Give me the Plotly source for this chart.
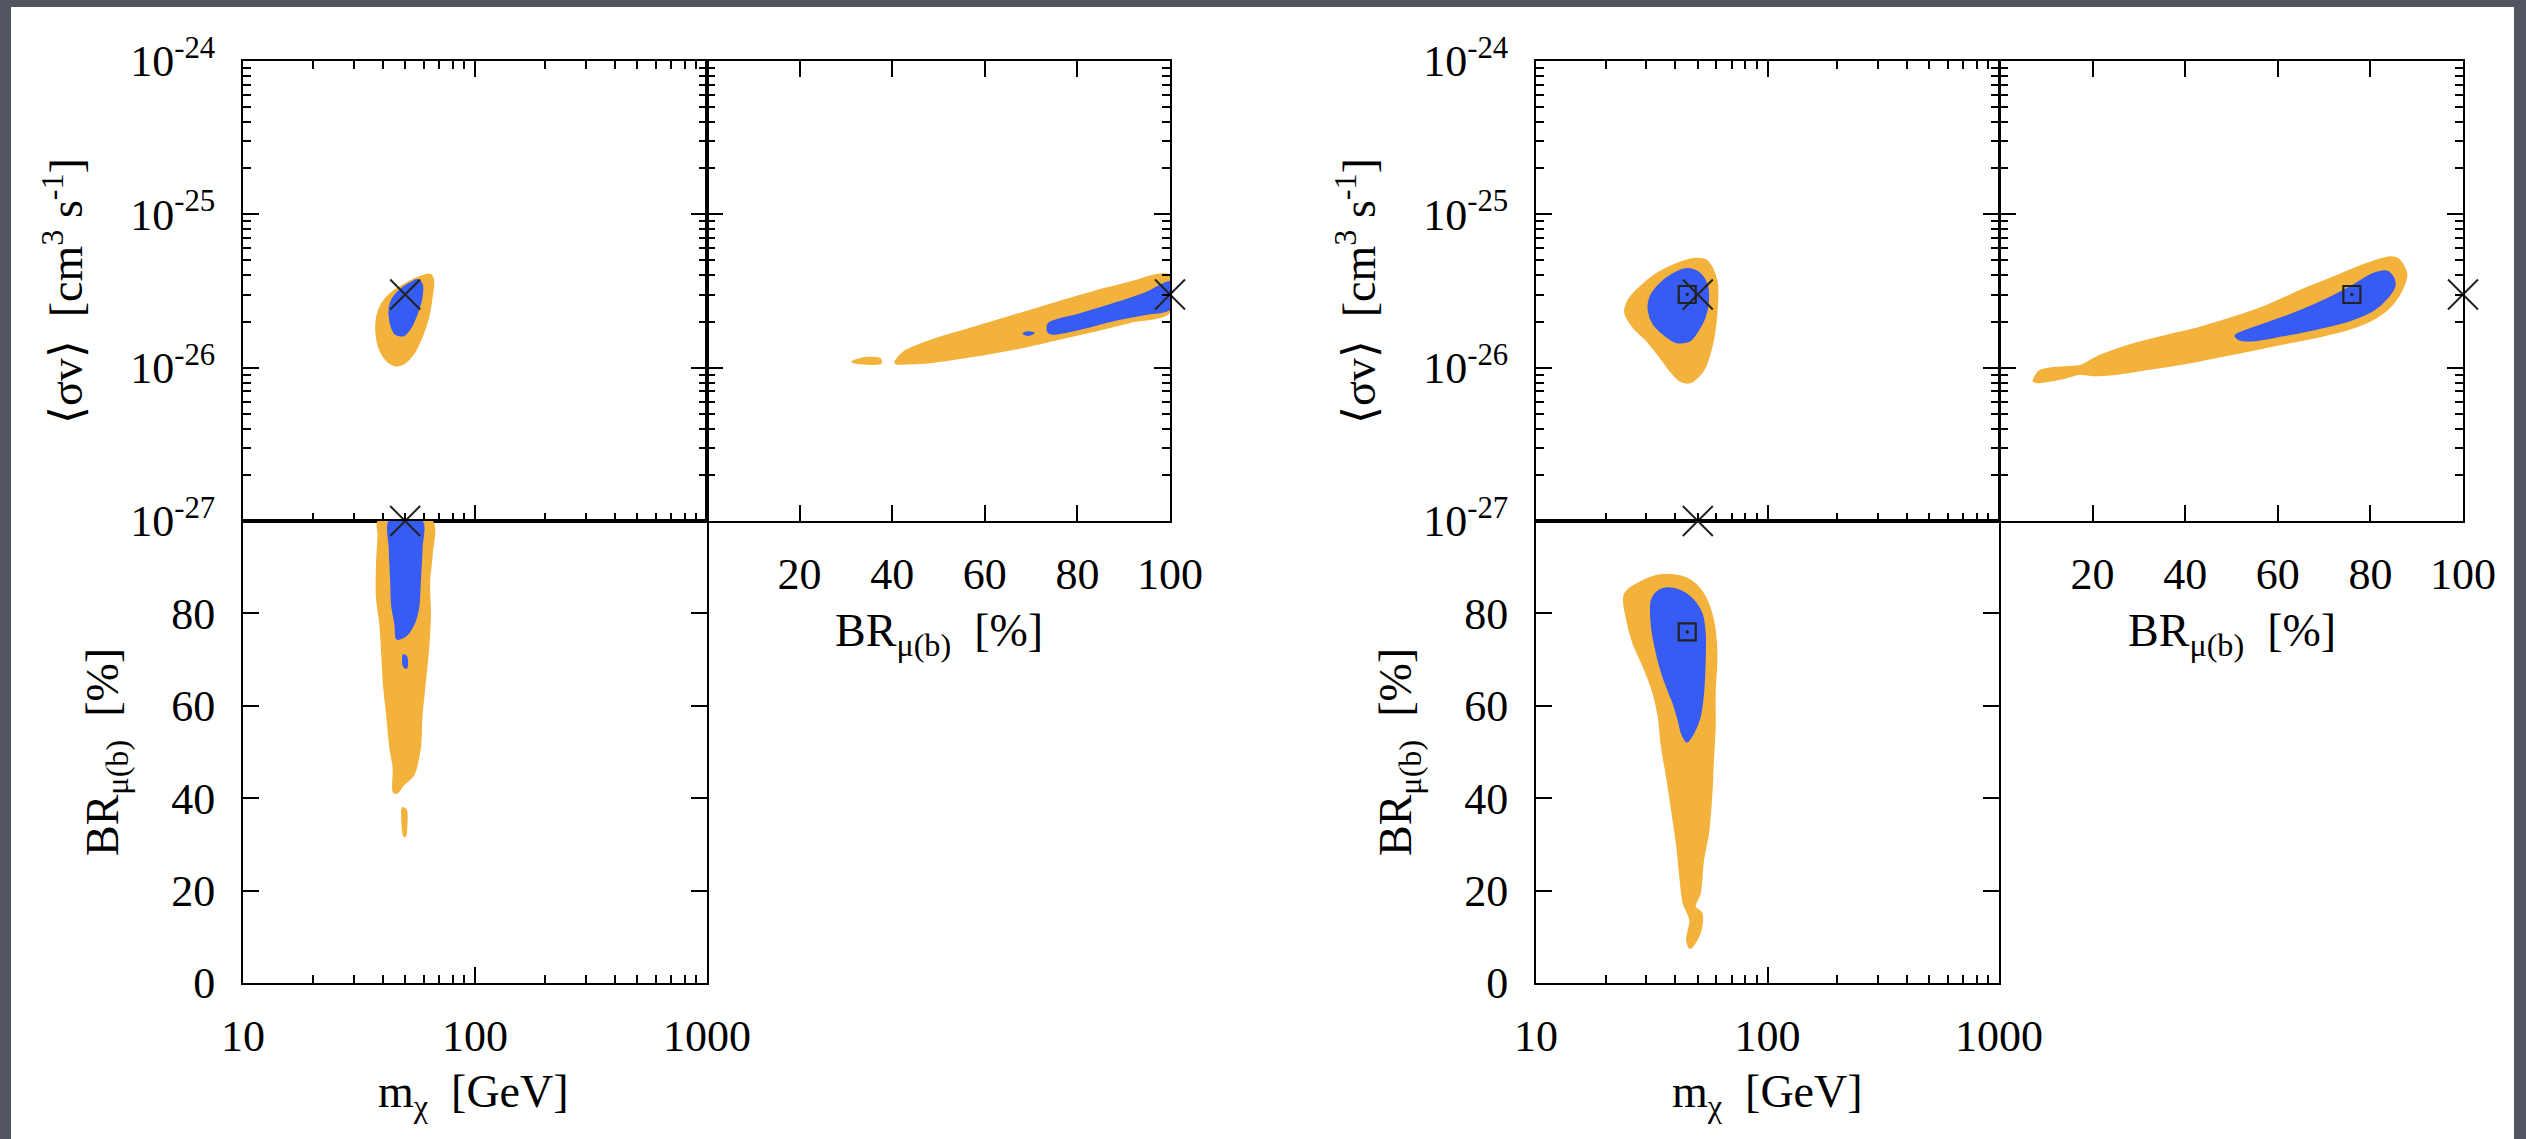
import plotly.graph_objects as go

W, H = 2526, 1139

# ---------------------------------------------------------------
# Fit results: 95% (orange) and 68% (blue) credible regions.
# Masses in GeV, <sigma v> in units of 1e-26 cm^3/s, BR in %.
# Case 1 (left block of panels)
# ---------------------------------------------------------------
SV_UNIT = 1e-26

c1_msv_95_m = [64.1, 66.2, 65.2, 63.0, 59.0, 54.3, 49.2, 45.3, 41.7, 39.0, 37.5, 37.7, 39.6, 43.8, 50.0, 57.0]
c1_msv_95_sv = [4.06, 3.71, 2.88, 2.13, 1.58, 1.23, 1.06, 1.03, 1.11, 1.29, 1.66, 2.13, 2.61, 3.10, 3.52, 3.89]
c1_msv_68_m = [56.2, 59.0, 59.0, 56.2, 52.5, 49.2, 45.3, 43.1, 42.8, 44.5, 49.2, 53.4]
c1_msv_68_sv = [3.74, 3.52, 2.88, 2.24, 1.79, 1.62, 1.66, 1.98, 2.48, 2.88, 3.35, 3.61]

c1_mbr_95_m = [38.3, 65.2, 65.2, 63.6, 64.1, 63.0, 61.0, 59.0, 58.0, 54.3, 49.2, 46.0, 44.5, 44.5, 43.1, 41.7, 40.3, 39.6, 39.0, 37.7, 37.7, 38.3]
c1_mbr_95_br = [100, 100, 92.6, 86.9, 79.7, 72.4, 65.2, 58.0, 50.8, 45.0, 42.9, 41.1, 41.4, 46.5, 50.8, 58.0, 65.2, 72.4, 77.5, 83.3, 90.5, 97.0]
c1_mbr_95b_m = [48.7, 50.5, 50.8, 50.1, 49.2, 48.5]
c1_mbr_95b_br = [37.9, 37.4, 34.9, 31.7, 32.0, 34.9]
c1_mbr_68_m = [42.8, 59.0, 59.0, 58.0, 57.0, 54.3, 50.0, 46.0, 45.3, 43.8, 43.4, 42.8]
c1_mbr_68_br = [100, 100, 94.1, 86.9, 81.1, 77.5, 75.0, 74.5, 77.5, 81.8, 86.9, 94.1]
c1_mbr_68b_m = [49.2, 50.7, 50.7, 49.2]
c1_mbr_68b_br = [71.0, 70.6, 68.2, 68.6]

c1_brsv_95_br = [40.6, 42.4, 48.2, 55.4, 62.6, 69.8, 77.0, 84.2, 91.4, 97.8, 100, 100, 91.4, 84.2, 77.0, 69.8, 62.6, 55.4, 48.2, 43.1, 41.0]
c1_brsv_95_sv = [1.08, 1.26, 1.50, 1.75, 2.03, 2.36, 2.74, 3.18, 3.61, 4.06, 3.99, 2.30, 1.98, 1.75, 1.56, 1.39, 1.26, 1.16, 1.08, 1.06, 1.06]
c1_brsv_95b_br = [31.3, 34.1, 37.4, 37.6, 34.1]
c1_brsv_95b_sv = [1.09, 1.16, 1.14, 1.07, 1.06]
c1_brsv_68_br = [73.7, 80.6, 87.8, 95.0, 97.8, 100, 100, 95.0, 87.8, 80.6, 74.8, 73.7]
c1_brsv_68_sv = [1.93, 2.24, 2.61, 3.10, 3.43, 3.61, 2.42, 2.24, 2.03, 1.79, 1.66, 1.70]
c1_brsv_68b_br = [68.3, 69.3, 70.6, 69.3]
c1_brsv_68b_sv = [1.67, 1.71, 1.68, 1.63]

# Case 2 (right block of panels)
c2_msv_95_m = [54.6, 60.3, 60.3, 57.4, 52.8, 46.3, 41.9, 37.9, 34.3, 30.1, 26.3, 24.2, 25.0, 28.1, 33.2, 40.5, 47.8]
c2_msv_95_sv = [5.00, 3.71, 2.24, 1.36, 0.956, 0.80, 0.82, 0.956, 1.17, 1.50, 1.83, 2.30, 2.74, 3.35, 4.10, 4.76, 5.13]
c2_msv_68_m = [44.8, 50.2, 54.6, 55.5, 53.7, 50.2, 46.3, 40.5, 36.1, 32.1, 30.6, 31.1, 34.3, 39.2]
c2_msv_68_sv = [4.42, 4.20, 3.52, 2.74, 2.13, 1.75, 1.50, 1.46, 1.62, 1.93, 2.36, 2.88, 3.52, 4.10]

c2_mbr_95_m = [24.2, 34.3, 44.8, 52.8, 58.3, 60.3, 59.3, 59.3, 58.3, 57.4, 55.5, 52.8, 51.1, 48.6, 52.0,
               51.1, 46.3, 44.8, 46.3, 43.3, 41.9, 40.5, 38.6, 36.7, 34.9, 33.8, 32.1, 29.1, 26.3, 24.7]
c2_mbr_95_br = [84.3, 88.3, 87.6, 84.3, 78.6, 71.4, 62.7, 55.5, 48.3, 41.1, 32.4, 26.6, 19.4, 16.5, 15.1,
                10.8, 7.5, 9.3, 13.6, 17.3, 23.0, 30.2, 37.4, 44.7, 51.1, 57.6, 62.7, 68.5, 73.5, 78.6]
c2_mbr_68_m = [31.6, 34.3, 39.2, 46.3, 52.0, 53.7, 53.7, 52.8, 51.1, 47.8, 44.8, 42.6, 41.2, 39.2, 36.7, 34.3, 32.7, 31.6]
c2_mbr_68_br = [82.9, 85.1, 85.4, 83.6, 80.0, 75.7, 69.9, 62.7, 57.6, 54.0, 52.2, 54.0, 56.9, 60.5, 64.1, 68.5, 72.8, 77.1]

c2_brsv_95_br = [7.2, 8.6, 14.4, 17.3, 21.6, 28.8, 36.0, 43.2, 50.4, 57.6, 64.8, 72.0, 79.2, 84.2, 86.0, 87.8,
                 87.1, 84.9, 81.4, 75.6, 68.4, 61.2, 54.0, 46.8, 39.6, 32.4, 25.2, 20.2, 17.3, 14.4, 10.8, 7.9]
c2_brsv_95_sv = [0.814, 0.956, 1.015, 1.03, 1.20, 1.43, 1.62, 1.83, 2.13, 2.54, 3.18, 3.89, 4.76, 5.26, 5.13, 4.10,
                 3.35, 2.61, 2.13, 1.79, 1.58, 1.43, 1.29, 1.17, 1.06, 0.98, 0.91, 0.89, 0.91, 0.864, 0.82, 0.80]
c2_brsv_68_br = [50.8, 54.0, 61.2, 68.4, 75.6, 80.6, 83.5, 84.9, 85.3, 83.5, 80.6, 75.6, 68.4, 61.2, 54.7, 51.8]
c2_brsv_68_sv = [1.62, 1.79, 2.13, 2.61, 3.35, 4.10, 4.26, 3.89, 3.43, 2.81, 2.36, 2.03, 1.79, 1.62, 1.50, 1.52]

# Injected (true) model and best-fit point of case 2
true_m, true_sv, true_br = 50.0, 3.0, 100.0
best_m, best_sv, best_br = 45.0, 3.0, 76.0

# Axis tick labels
mass_ticks = [10, 100, 1000]
mass_ticktext = ["10", "100", "1000"]
sv_ticks = [1e-27, 1e-26, 1e-25, 1e-24]
sv_ticktext = ["10<sup>-27</sup>", "10<sup>-26</sup>", "10<sup>-25</sup>", "10<sup>-24</sup>"]
br_yticks = [0, 20, 40, 60, 80]
br_xticks = [20, 40, 60, 80, 100]

ORANGE = "#F3B23C"
BLUE = "#375CF4"
FONT = "Liberation Serif"

fig = go.Figure()

# panel boxes in pixels (left, right, top, bottom)
panels = {
    1: (243, 707, 61, 521),
    2: (243, 707, 521, 983),
    3: (707, 1170, 61, 521),
    4: (1536, 1999, 61, 521),
    5: (1536, 1999, 521, 983),
    6: (2000, 2463, 61, 521),
}


def ax_id(n):
    return ("x" if n == 1 else f"x{n}"), ("y" if n == 1 else f"y{n}")


def add_region(n, xs, ys, color, xs_scale=1.0, ys_scale=1.0):
    xa, ya = ax_id(n)
    x = [v * xs_scale for v in xs] + [xs[0] * xs_scale]
    y = [v * ys_scale for v in ys] + [ys[0] * ys_scale]
    fig.add_trace(go.Scatter(
        x=x, y=y, mode="lines", fill="toself", fillcolor=color,
        line=dict(color=color, width=1.5, shape="spline", smoothing=0.9),
        xaxis=xa, yaxis=ya, hoverinfo="skip", showlegend=False))


# case 1 regions
add_region(1, c1_msv_95_m, c1_msv_95_sv, ORANGE, ys_scale=SV_UNIT)
add_region(1, c1_msv_68_m, c1_msv_68_sv, BLUE, ys_scale=SV_UNIT)
add_region(2, c1_mbr_95_m, c1_mbr_95_br, ORANGE)
add_region(2, c1_mbr_95b_m, c1_mbr_95b_br, ORANGE)
add_region(2, c1_mbr_68_m, c1_mbr_68_br, BLUE)
add_region(2, c1_mbr_68b_m, c1_mbr_68b_br, BLUE)
add_region(3, c1_brsv_95_br, c1_brsv_95_sv, ORANGE, ys_scale=SV_UNIT)
add_region(3, c1_brsv_95b_br, c1_brsv_95b_sv, ORANGE, ys_scale=SV_UNIT)
add_region(3, c1_brsv_68_br, c1_brsv_68_sv, BLUE, ys_scale=SV_UNIT)
add_region(3, c1_brsv_68b_br, c1_brsv_68b_sv, BLUE, ys_scale=SV_UNIT)

# case 2 regions
add_region(4, c2_msv_95_m, c2_msv_95_sv, ORANGE, ys_scale=SV_UNIT)
add_region(4, c2_msv_68_m, c2_msv_68_sv, BLUE, ys_scale=SV_UNIT)
add_region(5, c2_mbr_95_m, c2_mbr_95_br, ORANGE)
add_region(5, c2_mbr_68_m, c2_mbr_68_br, BLUE)
add_region(6, c2_brsv_95_br, c2_brsv_95_sv, ORANGE, ys_scale=SV_UNIT)
add_region(6, c2_brsv_68_br, c2_brsv_68_sv, BLUE, ys_scale=SV_UNIT)


def add_marker(n, x, y, symbol, size, width):
    xa, ya = ax_id(n)
    fig.add_trace(go.Scatter(
        x=[x], y=[y], mode="markers", cliponaxis=False,
        marker=dict(symbol=symbol, size=size, color="#222222",
                    line=dict(color="#222222", width=width)),
        xaxis=xa, yaxis=ya, hoverinfo="skip", showlegend=False))


# injected model (cross) in both blocks
for base in (0, 3):
    add_marker(base + 1, true_m, true_sv * SV_UNIT, "x-thin", 30, 2)
    add_marker(base + 2, true_m, true_br, "x-thin", 30, 2)
    add_marker(base + 3, true_br, true_sv * SV_UNIT, "x-thin", 30, 2)

# best-fit point (square) of case 2
add_marker(4, best_m, best_sv * SV_UNIT, "square-open-dot", 17, 2.2)
add_marker(5, best_m, best_br, "square-open-dot", 17, 2.2)
add_marker(6, best_br, best_sv * SV_UNIT, "square-open-dot", 17, 2.2)

# ---------------- axes ----------------
mass_minor = [k * 10 ** e for e in (1, 2) for k in range(2, 10)]
sv_minor = [k * 10.0 ** e for e in (-27, -26, -25) for k in range(2, 10)]

common = dict(showline=True, linecolor="black", linewidth=2, ticks="inside",
              ticklen=16, tickwidth=2, tickcolor="black", showgrid=False,
              zeroline=False, fixedrange=True, automargin=False,
              tickfont=dict(family=FONT, size=44, color="black"))


def mass_axis(labels):
    return dict(common, type="log", range=[1, 3], tickmode="array",
                tickvals=mass_ticks, ticktext=mass_ticktext,
                showticklabels=labels, ticklabelstandoff=13,
                minor=dict(tickmode="array", tickvals=mass_minor, ticks="inside",
                           ticklen=8, tickwidth=2, tickcolor="black"))


def sv_axis(labels):
    return dict(common, type="log", range=[-27, -24], tickmode="array",
                tickvals=sv_ticks, ticktext=sv_ticktext, showticklabels=labels,
                ticklabelstandoff=17, mirror="ticks",
                minor=dict(tickmode="array", tickvals=sv_minor, ticks="inside",
                           ticklen=8, tickwidth=2, tickcolor="black"))


def br_yaxis():
    return dict(common, range=[0, 100], tickmode="array", tickvals=br_yticks,
                ticktext=[str(v) for v in br_yticks], mirror="ticks",
                ticklabelstandoff=17)


def br_xaxis():
    return dict(common, range=[0, 100], tickmode="array", tickvals=br_xticks,
                ticktext=[str(v) for v in br_xticks], mirror="ticks",
                ticklabelstandoff=13)


layout_axes = {}
for base in (0, 3):
    specs = {
        base + 1: (dict(mass_axis(False), mirror="ticks"), sv_axis(True)),
        base + 2: (dict(mass_axis(True), mirror=True), br_yaxis()),
        base + 3: (br_xaxis(), sv_axis(False)),
    }
    for n, (xa, ya) in specs.items():
        x0, x1, y0, y1 = panels[n]
        xid, yid = ax_id(n)
        xa = dict(xa, domain=[x0 / W, x1 / W], anchor=yid)
        ya = dict(ya, domain=[1 - y1 / H, 1 - y0 / H], anchor=xid)
        layout_axes["xaxis" if n == 1 else f"xaxis{n}"] = xa
        layout_axes["yaxis" if n == 1 else f"yaxis{n}"] = ya

# ---------------- axis titles ----------------
title_font = dict(family=FONT, size=46, color="black")
annotations = []
for dx in (0, 1293):
    annotations += [
        dict(text="\u27e8\u03c3v\u27e9  [cm<sup>3</sup> s<sup>-1</sup>]", x=(63 + dx) / W, y=1 - 291 / H,
             textangle=-90),
        dict(text="BR<sub>\u03bc(b)</sub>  [%]", x=(106 + dx) / W, y=1 - 752 / H, textangle=-90),
        dict(text="m<sub>\u03c7</sub>  [GeV]", x=(474 + dx) / W, y=1 - 1095 / H),
        dict(text="BR<sub>\u03bc(b)</sub>  [%]", x=(939 + dx) / W, y=1 - 634 / H),
    ]
for a in annotations:
    a.update(xref="paper", yref="paper", xanchor="center", yanchor="middle",
             showarrow=False, font=title_font)

fig.update_layout(
    template="none",
    width=W, height=H, margin=dict(l=0, r=0, t=0, b=0, pad=0, autoexpand=False),
    paper_bgcolor="#50555f", plot_bgcolor="white",
    annotations=annotations,
    shapes=[dict(type="rect", xref="paper", yref="paper", layer="below",
                 x0=11 / W, x1=2514 / W, y0=0, y1=1 - 7 / H,
                 fillcolor="white", line=dict(width=0))],
    **layout_axes,
)

fig.write_html("out.html")
